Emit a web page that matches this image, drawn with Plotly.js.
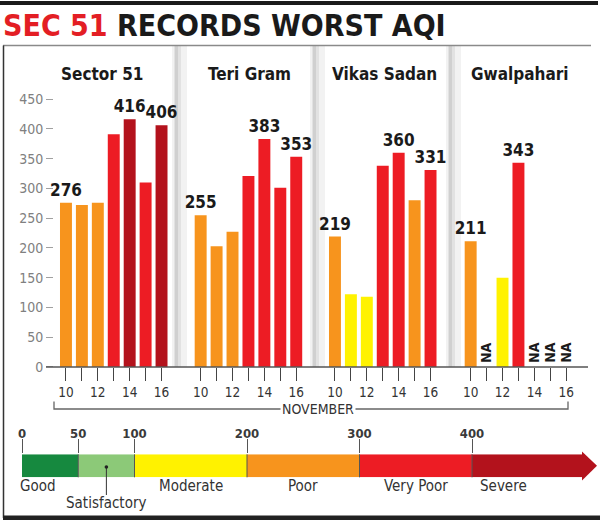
<!DOCTYPE html>
<html>
<head>
<meta charset="utf-8">
<script src="https://cdn.plot.ly/plotly-3.0.1.min.js"></script>
<style>html,body{margin:0;padding:0;background:#fff;}#chart{width:600px;height:520px;}</style>
</head>
<body>
<div id="chart"></div>
<script>
// ---------- data ----------
const days = [10, 11, 12, 13, 14, 15, 16];
const dayTickLabels = ['10', '', '12', '', '14', '', '16'];
const stations = ['Sector 51', 'Teri Gram', 'Vikas Sadan', 'Gwalpahari'];
const sector51 = [276, 272, 276, 391, 416, 310, 406];
const teriGram = [255, 203, 227, 321, 383, 301, 353];
const vikasSadan = [219, 122, 118, 338, 360, 280, 331];
const gwalpahari = [211, null, 150, 343, null, null, null];
const sector51Labelled = [10, 14, 16];
const teriGramLabelled = [10, 14, 16];
const vikasSadanLabelled = [10, 14, 16];
const gwalpahariLabelled = [10, 13];
const yTickValues = [0, 50, 100, 150, 200, 250, 300, 350, 400, 450];
const monthLabel = 'NOVEMBER';
const aqiBreaks = [0, 50, 100, 200, 300, 400, 500];
const aqiTickValues = [0, 50, 100, 200, 300, 400];
const aqiCategories = ['Good', 'Satisfactory', 'Moderate', 'Poor', 'Very Poor', 'Severe'];
const aqiColors = ['#16893f', '#8cc978', '#fff200', '#f7941d', '#ed1c24', '#b3121c'];
const titleRed = 'SEC 51';
const titleBlack = 'RECORDS WORST AQI';

// ---------- styling ----------
const FONT = '"Liberation Sans Narrow", "Arial Narrow", "DejaVu Sans Condensed", sans-serif';
const W = 600, H = 520;
const px = p => p / W;
const py = p => 1 - p / H;
const seriesValues = [sector51, teriGram, vikasSadan, gwalpahari];
const seriesLabelled = [sector51Labelled, teriGramLabelled, vikasSadanLabelled, gwalpahariLabelled];
const panelDomainsPx = [[58, 169.5], [192.7, 304.2], [327, 438.5], [462.7, 574.2]];
const panelTitleX = [102, 249, 384, 520];
const dividerX = [176, 314, 450];
const Y0 = 367, YSCALE = 0.5954, YMAX = 480;

function aqiColor(v) {
  if (v == null) return '#ffffff';
  for (let k = aqiBreaks.length - 2; k >= 0; k--) {
    if (v > aqiBreaks[k]) return aqiColors[k];
  }
  return aqiColors[0];
}
const axName = i => (i === 0 ? 'x' : 'x' + (i + 1));
const axKey = i => (i === 0 ? 'xaxis' : 'xaxis' + (i + 1));

const traces = [];
const annotations = [];
const shapes = [];
const layout = {
  width: W, height: H,
  margin: {l: 0, r: 0, t: 0, b: 0},
  paper_bgcolor: '#ffffff', plot_bgcolor: 'rgba(0,0,0,0)',
  showlegend: false, hovermode: false,
  barmode: 'overlay', bargap: 0.25,
  font: {family: FONT, color: '#222'},
  title: {
    text: '<span style="color:#e31e24">' + titleRed + '</span> ' + titleBlack,
    font: {family: FONT, size: 30, weight: 'bold', color: '#1a1a1a'},
    x: px(3), xanchor: 'left', xref: 'paper',
    y: py(25), yanchor: 'middle', yref: 'container'
  },
  yaxis: {
    domain: [py(Y0), py(Y0 - YMAX * YSCALE)], range: [0, YMAX],
    anchor: 'free', position: px(53), side: 'left',
    tickvals: yTickValues, ticks: 'outside', ticklen: 7, tickwidth: 1, tickcolor: '#a0a0a0',
    tickfont: {family: FONT, size: 14, color: '#808080'},
    showline: false, showgrid: false, zeroline: false, fixedrange: true
  }
};

stations.forEach((name, i) => {
  const vals = seriesValues[i];
  traces.push({
    type: 'bar', x: days, y: vals, xaxis: axName(i), yaxis: 'y',
    marker: {color: vals.map(aqiColor), line: {width: 0}},
    text: vals.map((v, j) => (v != null && seriesLabelled[i].includes(days[j]) ? String(v) : '')),
    textposition: 'outside', constraintext: 'none', cliponaxis: false,
    textfont: {family: FONT, size: 17, weight: 'bold', color: '#1a1a1a'}
  });
  layout[axKey(i)] = {
    domain: [px(panelDomainsPx[i][0]), px(panelDomainsPx[i][1])], range: [9.5, 16.5],
    anchor: 'y', tickvals: days, ticktext: dayTickLabels,
    ticks: 'outside', ticklen: 13, tickwidth: 1, tickcolor: '#444',
    tickfont: {family: FONT, size: 13.5, color: '#333'},
    showline: false, showgrid: false, zeroline: false, fixedrange: true
  };
  annotations.push({
    text: name, xref: 'paper', yref: 'paper', x: px(panelTitleX[i]), y: py(74.5),
    xanchor: 'center', yanchor: 'middle', showarrow: false,
    font: {family: FONT, size: 17, weight: 'bold', color: '#1a1a1a'}
  });
  vals.forEach((v, j) => {
    if (v == null) {
      annotations.push({
        text: 'NA', xref: axName(i), yref: 'y', x: days[j], y: 0,
        xanchor: 'center', yanchor: 'bottom', yshift: 2, textangle: -90, showarrow: false,
        font: {family: FONT, size: 14, weight: 'bold', color: '#1a1a1a'}
      });
    }
  });
});

// ---------- AQI scale (legend) ----------
const LX0 = 22, LSCALE = 1.125;
layout.xaxis5 = {
  domain: [0, 1], range: [-LX0 / LSCALE, (W - LX0) / LSCALE], anchor: 'y2', side: 'top',
  tickvals: aqiTickValues, ticks: 'outside', ticklen: 14, tickwidth: 1, tickcolor: '#555',
  ticklabelstandoff: -4,
  tickfont: {family: FONT, size: 13, weight: 'bold', color: '#3a3a3a'},
  showline: false, showgrid: false, zeroline: false, fixedrange: true
};
layout.yaxis2 = {
  domain: [py(477.3), py(454.3)], range: [-0.5, 0.5], anchor: 'x5',
  visible: false, fixedrange: true
};
traces.push({
  type: 'bar', orientation: 'h', xaxis: 'x5', yaxis: 'y2',
  y: aqiCategories.map(() => 0), width: aqiCategories.map(() => 1),
  base: aqiBreaks.slice(0, -1),
  x: aqiBreaks.slice(1).map((b, k) => b - aqiBreaks[k]),
  marker: {color: aqiColors, line: {width: 0}}
});
aqiTickValues.slice(1).forEach(b => {
  shapes.push({type: 'line', xref: 'x5', yref: 'paper', x0: b, x1: b, y0: py(477.3), y1: py(454.3),
    line: {color: '#555', width: 1}});
});
// arrow head
shapes.push({type: 'path', xref: 'paper', yref: 'paper',
  path: `M ${px(582)},${py(451.5)} L ${px(597)},${py(465.8)} L ${px(582)},${py(480.5)} Z`,
  fillcolor: aqiColors[5], line: {width: 0}});
// category labels
const labelSpec = [
  {anchor: 'left', at: 0, shift: -4, y: 486},
  {anchor: 'center', at: 75, shift: 0, y: 503},
  {anchor: 'center', at: 150, shift: 0, y: 486},
  {anchor: 'center', at: 250, shift: 0, y: 486},
  {anchor: 'center', at: 350, shift: 0, y: 486},
  {anchor: 'left', at: 400, shift: 6, y: 486}
];
aqiCategories.forEach((c, k) => {
  const s = labelSpec[k];
  annotations.push({
    text: c, xref: 'x5', yref: 'paper', x: s.at, xshift: s.shift, y: py(s.y),
    xanchor: s.anchor, yanchor: 'middle', showarrow: false,
    font: {family: FONT, size: 15, color: '#333'}
  });
});
// satisfactory pointer
shapes.push({type: 'line', xref: 'x5', yref: 'paper', x0: 75, x1: 75, y0: py(467), y1: py(495),
  line: {color: '#333', width: 1}});
shapes.push({type: 'circle', xref: 'x5', yref: 'paper', x0: 75 - 1.6, x1: 75 + 1.6, y0: py(468.8), y1: py(465.2),
  fillcolor: '#222', line: {width: 0}});

// ---------- frame, dividers, axis line, month bracket ----------
dividerX.forEach(d => {
  shapes.push({type: 'rect', xref: 'paper', yref: 'paper', x0: px(d - 4), x1: px(d + 11), y0: py(367), y1: py(46),
    fillcolor: '#f2f2f2', line: {width: 0}, layer: 'below'});
  shapes.push({type: 'rect', xref: 'paper', yref: 'paper', x0: px(d - 2), x1: px(d + 5), y0: py(367), y1: py(46),
    fillcolor: '#e2e2e2', line: {width: 0}, layer: 'below'});
  shapes.push({type: 'rect', xref: 'paper', yref: 'paper', x0: px(d - 1), x1: px(d + 2), y0: py(367), y1: py(46),
    fillcolor: '#d0d0d0', line: {width: 0}, layer: 'below'});
});
shapes.push({type: 'line', xref: 'paper', yref: 'paper', x0: px(46), x1: px(588), y0: py(Y0), y1: py(Y0),
  line: {color: '#555', width: 1.5}});
shapes.push({type: 'path', xref: 'paper', yref: 'paper',
  path: `M ${px(54)},${py(401.5)} L ${px(54)},${py(409)} L ${px(568)},${py(409)} L ${px(568)},${py(401.5)}`,
  line: {color: '#666', width: 1.3}});
annotations.push({
  text: monthLabel, xref: 'paper', yref: 'paper', x: px(317.5), y: py(409),
  xanchor: 'center', yanchor: 'middle', showarrow: false, bgcolor: '#ffffff', borderpad: 1,
  font: {family: FONT, size: 14, color: '#333'}
});
// top black rule, grey rule, left border, bottom rule
shapes.push({type: 'rect', xref: 'paper', yref: 'paper', x0: 0, x1: px(598), y0: py(5), y1: py(1),
  fillcolor: '#1a1a1a', line: {width: 0}});
shapes.push({type: 'line', xref: 'paper', yref: 'paper', x0: px(3), x1: px(591), y0: py(45.5), y1: py(45.5),
  line: {color: '#8a8a8a', width: 1.5}});
shapes.push({type: 'line', xref: 'paper', yref: 'paper', x0: px(3.5), x1: px(3.5), y0: py(45.5), y1: py(518),
  line: {color: '#333', width: 1.5}});
shapes.push({type: 'rect', xref: 'paper', yref: 'paper', x0: px(3), x1: px(600), y0: py(520), y1: py(515.5),
  fillcolor: '#222', line: {width: 0}});

layout.annotations = annotations;
layout.shapes = shapes;

Plotly.newPlot('chart', traces, layout, {displayModeBar: false, staticPlot: true});
</script>
</body>
</html>
